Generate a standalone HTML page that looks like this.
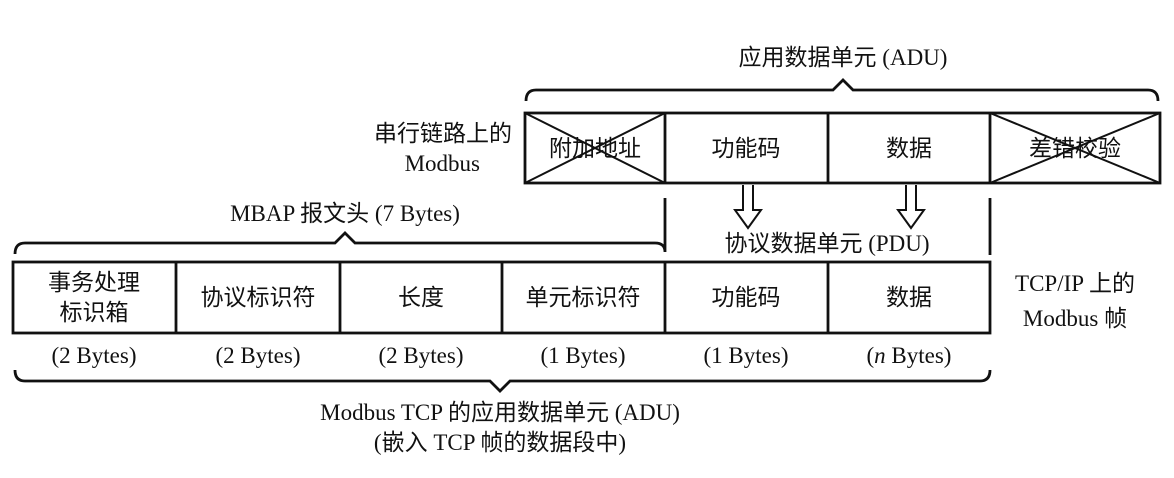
<!DOCTYPE html>
<html><head><meta charset="utf-8"><style>
html,body{margin:0;padding:0;background:#fff;width:1174px;height:478px;overflow:hidden}
text{font-family:"Liberation Serif","Noto Sans CJK SC",serif;font-size:23px;fill:#111}
</style></head><body>
<svg width="1174" height="478" viewBox="0 0 1174 478" xmlns="http://www.w3.org/2000/svg">
<g stroke="#111" fill="none" stroke-width="2.8">
<rect x="525" y="113" width="635" height="70"/>
<line x1="665" y1="113" x2="665" y2="183"/>
<line x1="828" y1="113" x2="828" y2="183"/>
<line x1="990" y1="113" x2="990" y2="183"/>
<line x1="525" y1="113" x2="665" y2="183" stroke-width="2"/>
<line x1="525" y1="183" x2="665" y2="113" stroke-width="2"/>
<line x1="990" y1="113" x2="1160" y2="183" stroke-width="2"/>
<line x1="990" y1="183" x2="1160" y2="113" stroke-width="2"/>
<path d="M526,101 Q526,90 536,90 L833,90 L843,80 L853,90 L1148,90 Q1158,90 1158,101"/>
<rect x="13" y="262" width="977" height="71"/>
<line x1="176" y1="262" x2="176" y2="333"/>
<line x1="340" y1="262" x2="340" y2="333"/>
<line x1="502" y1="262" x2="502" y2="333"/>
<line x1="665" y1="262" x2="665" y2="333"/>
<line x1="828" y1="262" x2="828" y2="333"/>
<path d="M15,254 Q15,243 25,243 L335,243 L345,233 L355,243 L655,243 Q665,243 665,252 L665,198"/>
<line x1="990" y1="198" x2="990" y2="255"/>
<path d="M15,370 Q15,381 25,381 L490,381 L500,391 L510,381 L980,381 Q990,381 990,370"/>
<path d="M743,185 L743,210 L735,210 L748,228 L761,210 L753,210 L753,185" stroke-width="2"/>
<path d="M906,185 L906,210 L898,210 L911,228 L924,210 L916,210 L916,185" stroke-width="2"/>
</g>
<g text-anchor="middle">
<text x="843" y="65">应用数据单元 (ADU)</text>
<text x="595" y="156">附加地址</text>
<text x="746" y="156">功能码</text>
<text x="909" y="156">数据</text>
<text x="1075" y="156">差错校验</text>
<text x="345" y="221">MBAP 报文头 (7 Bytes)</text>
<text x="827" y="251">协议数据单元 (PDU)</text>
<text x="94" y="290">事务处理</text>
<text x="94" y="320">标识箱</text>
<text x="258" y="305">协议标识符</text>
<text x="421" y="305">长度</text>
<text x="583" y="305">单元标识符</text>
<text x="746" y="305">功能码</text>
<text x="909" y="305">数据</text>
<text x="1075" y="291">TCP/IP 上的</text>
<text x="1075" y="326">Modbus 帧</text>
<text x="94" y="363">(2 Bytes)</text>
<text x="258" y="363">(2 Bytes)</text>
<text x="421" y="363">(2 Bytes)</text>
<text x="583" y="363">(1 Bytes)</text>
<text x="746" y="363">(1 Bytes)</text>
<text x="909" y="363">(<tspan font-style="italic">n</tspan> Bytes)</text>
<text x="500" y="420">Modbus TCP 的应用数据单元 (ADU)</text>
<text x="500" y="450">(嵌入 TCP 帧的数据段中)</text>
</g>
<g text-anchor="end">
<text x="512" y="141">串行链路上的</text>
<text x="480" y="171">Modbus</text>
</g>
</svg>
</body></html>
